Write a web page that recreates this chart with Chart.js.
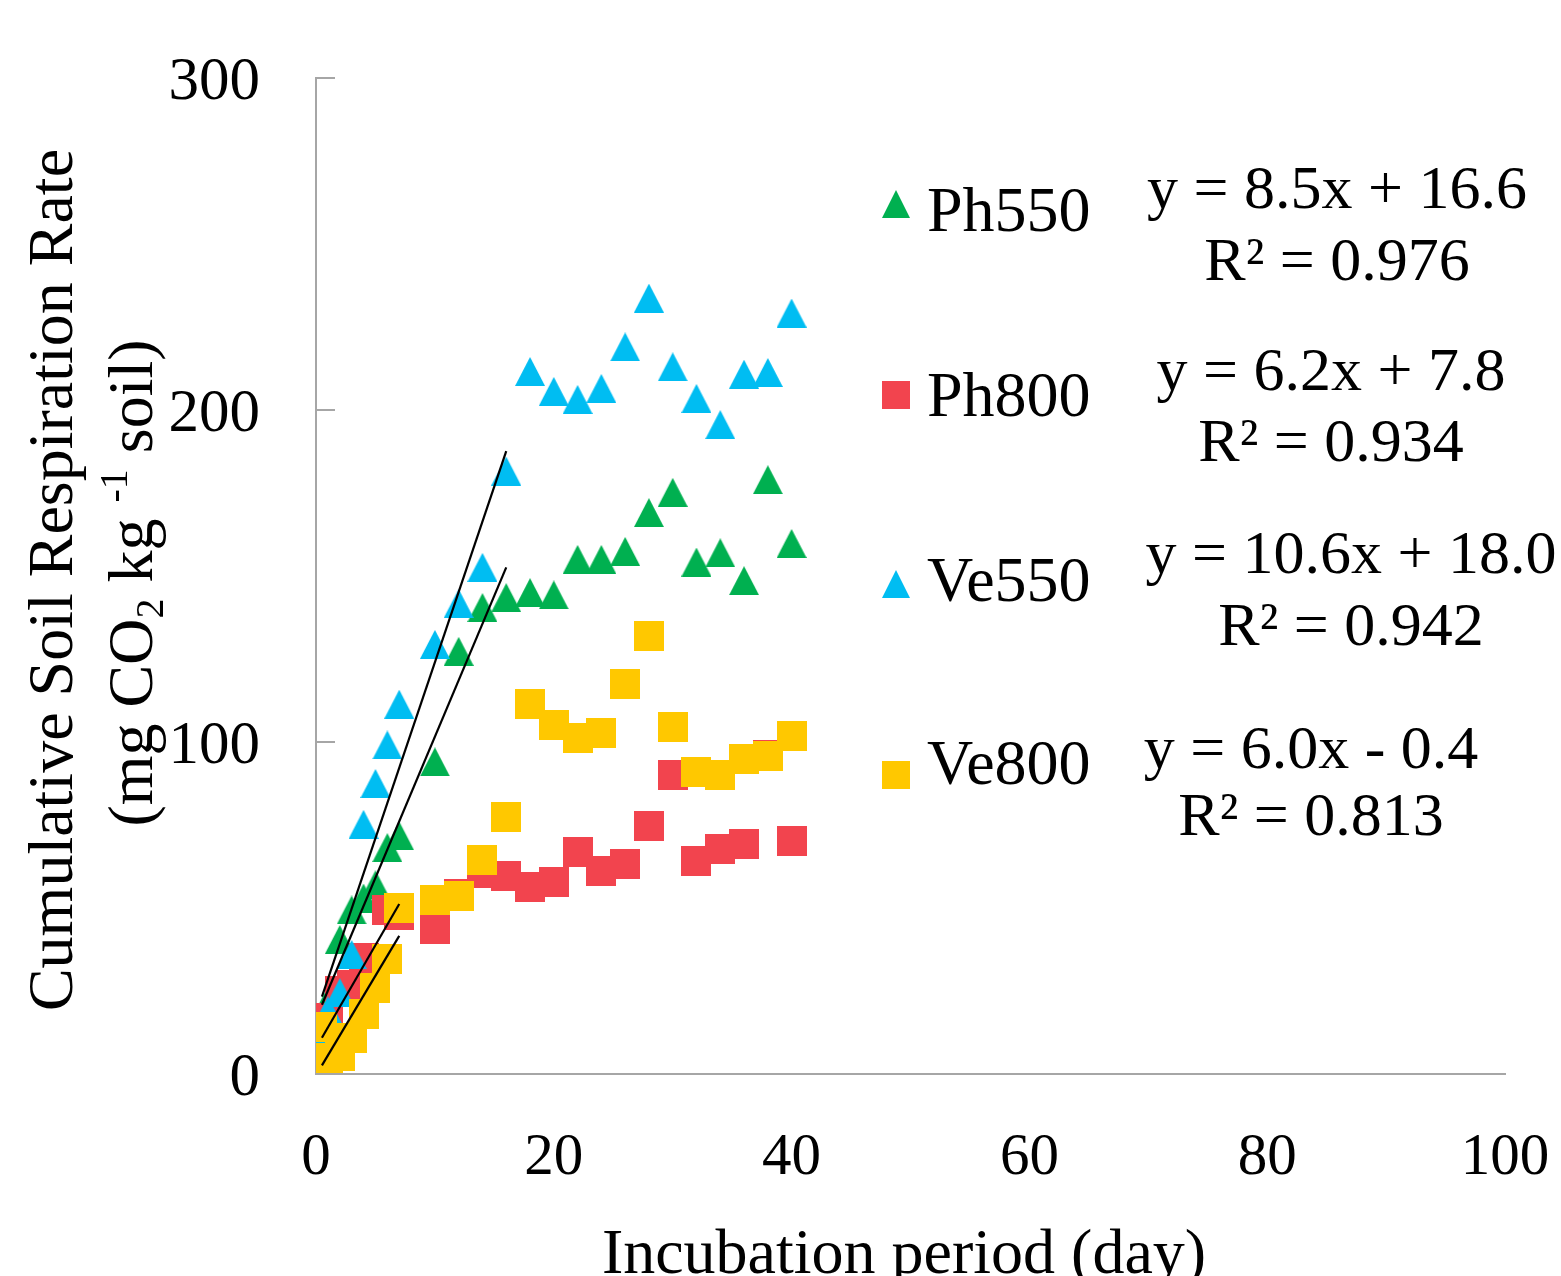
<!DOCTYPE html>
<html>
<head>
<meta charset="utf-8">
<script src="https://cdn.jsdelivr.net/npm/chart.js@4.4.0/dist/chart.umd.min.js"></script>
<style>
    html, body { margin: 0; padding: 0; background: #fff; }
    canvas { display: block; }
</style>
</head>
<body>
<canvas id="myChart" width="1561" height="1276"></canvas>
<script>
// incubation days
const days = [0.5, 1, 2, 3, 4, 5, 6, 7, 10, 12, 14, 16, 18, 20, 22, 24, 26, 28, 30, 32, 34, 36, 38, 40]

// cumulative respiration (mg CO2 / kg soil)
const ph550 = [18, 22, 40.5, 49.4, 53, 57, 68.2, 71.7, 94, 127.3, 140.5, 143.5, 145, 144.3, 155, 155, 157.4, 169.1, 175.2, 154.2, 157, 148.6, 179, 159.8]
const ph800 = [6.3, 17, 25, 26.8, 35, 32, 49.4, 47.9, 43.7, 54.2, 60.6, 59.5, 56.2, 57.8, 67, 61, 63.3, 74.8, 90.2, 64.2, 67.9, 69.4, 96.2, 70.3]
const ve550 = [13.5, 19, 24.5, 36, 75.2, 87.5, 99.1, 111.4, 129.4, 141.7, 152.6, 181.6, 211.6, 205.6, 203.2, 206.5, 219, 233.7, 213, 203.5, 195.6, 210.8, 211.3, 229.2]
const ve800 = [14.2, 4.8, 5.3, 10.8, 18, 26, 34.6, 49.9, 52.5, 53.7, 64.5, 77.5, 111.4, 105.2, 101.1, 102.8, 117.6, 131.8, 104.4, 91.1, 90.2, 94.9, 95.7, 101.7]

// linear trendlines as printed on the chart
const seriesNames = ["Ph550", "Ph800", "Ve550", "Ve800"]
const slopes = [8.5, 6.2, 10.6, 6.0]
const intercepts = [16.6, 7.8, 18.0, -0.4]
const trendFrom = [0.5, 0.5, 0.5, 0.5]
const trendTo = [16, 7, 16, 7]
const equations = ["y = 8.5x + 16.6", "y = 6.2x + 7.8", "y = 10.6x + 18.0", "y = 6.0x - 0.4"]
const rSquared = ["R² = 0.976", "R² = 0.934", "R² = 0.942", "R² = 0.813"]

const xTicks = [0, 20, 40, 60, 80, 100]
const yTicks = [0, 100, 200, 300]

const colors = ["#00B050", "#F2444E", "#00BDF2", "#FFC800"]
const axisColor = "#a6a6a6"
const serif = "'Liberation Serif', 'Times New Roman', serif"

function makeTriangle(color, w, h) {
    const c = document.createElement("canvas")
    c.width = w
    c.height = h
    const ctx = c.getContext("2d")
    ctx.fillStyle = color
    ctx.beginPath()
    ctx.moveTo(w / 2, 0)
    ctx.lineTo(w, h)
    ctx.lineTo(0, h)
    ctx.closePath()
    ctx.fill()
    return c
}

function makeSquare(color, s) {
    const c = document.createElement("canvas")
    c.width = s
    c.height = s
    const ctx = c.getContext("2d")
    ctx.fillStyle = color
    ctx.fillRect(0, 0, s, s)
    return c
}

const markers = [
    makeTriangle(colors[0], 30, 29),
    makeSquare(colors[1], 30),
    makeTriangle(colors[2], 30, 29),
    makeSquare(colors[3], 30),
]
const legendMarkers = [
    makeTriangle(colors[0], 28, 28),
    makeSquare(colors[1], 28),
    makeTriangle(colors[2], 28, 28),
    makeSquare(colors[3], 28),
]

function toPoints(values) {
    return days.map((d, i) => ({ x: d, y: values[i] }))
}

function trendPoints(i) {
    return [trendFrom[i], trendTo[i]].map((x) => ({ x: x, y: slopes[i] * x + intercepts[i] }))
}

const seriesValues = [ph550, ph800, ve550, ve800]
const datasets = []
seriesValues.forEach((values, i) => {
    datasets.push({
        label: seriesNames[i],
        data: toPoints(values),
        pointStyle: markers[i],
        pointRadius: 15,
        showLine: false,
        order: 4 - i,
    })
})
seriesValues.forEach((values, i) => {
    datasets.push({
        label: seriesNames[i] + " trend",
        data: trendPoints(i),
        showLine: true,
        borderColor: "#000",
        borderWidth: 2.2,
        pointRadius: 0,
        order: 0,
    })
})

function noPadding(scale) {
    scale.paddingLeft = 0
    scale.paddingRight = 0
    scale.paddingTop = 0
    scale.paddingBottom = 0
}

// legend entries, trendline labels, axis titles and inner tick marks
const annotations = {
    id: "annotations",
    beforeDatasetsDraw(chart) {
        const ctx = chart.ctx
        const y = chart.scales.y
        ctx.save()
        ctx.strokeStyle = axisColor
        ctx.lineWidth = 2
        yTicks.forEach((v) => {
            if (v === 0) return
            const py = Math.round(y.getPixelForValue(v))
            ctx.beginPath()
            ctx.moveTo(y.right, py)
            ctx.lineTo(y.right + 19, py)
            ctx.stroke()
        })
        ctx.restore()
    },
    afterDraw(chart) {
        const ctx = chart.ctx
        ctx.save()
        ctx.fillStyle = "#000"

        // legend
        const legendY = [204, 395, 584, 775]
        const labelBase = [231, 416, 601, 784]
        ctx.font = "64px " + serif
        ctx.textAlign = "left"
        ctx.textBaseline = "alphabetic"
        legendMarkers.forEach((m, i) => {
            ctx.drawImage(m, 896 - m.width / 2, legendY[i] - m.height / 2)
            ctx.fillText(seriesNames[i], 927, labelBase[i])
        })

        // trendline equations
        const eqX = [1337, 1331, 1351, 1311]
        const eqBase = [208, 390, 573, 768]
        const r2Base = [280, 461, 645, 835]
        ctx.font = "62px " + serif
        ctx.textAlign = "center"
        equations.forEach((eq, i) => {
            ctx.fillText(eq, eqX[i], eqBase[i])
            ctx.fillText(rSquared[i], eqX[i], r2Base[i])
        })

        // x axis title
        ctx.font = "64px " + serif
        ctx.fillText("Incubation period (day)", 904, 1273)

        // y axis title, two lines
        ctx.translate(72, 580)
        ctx.rotate(-Math.PI / 2)
        ctx.textAlign = "center"
        ctx.fillText("Cumulative Soil Respiration Rate", 0, 0)

        const parts = [
            { t: "(mg CO", size: 64, dy: 0 },
            { t: "2", size: 40, dy: 11 },
            { t: " kg ", size: 64, dy: 0 },
            { t: "-1", size: 40, dy: -25 },
            { t: " soil)", size: 64, dy: 0 },
        ]
        let total = 0
        parts.forEach((p) => {
            ctx.font = p.size + "px " + serif
            p.w = ctx.measureText(p.t).width
            total += p.w
        })
        ctx.textAlign = "left"
        let px = -total / 2 - 3
        parts.forEach((p) => {
            ctx.font = p.size + "px " + serif
            ctx.fillText(p.t, px, 80 + p.dy)
            px += p.w
        })
        ctx.restore()
    },
}

const myChart = new Chart(document.getElementById("myChart").getContext("2d"), {
    type: "scatter",
    data: { datasets: datasets },
    options: {
        responsive: false,
        animation: false,
        events: [],
        layout: { padding: { top: 78, right: 56, left: 0, bottom: 0 } },
        plugins: {
            legend: { display: false },
            tooltip: { enabled: false },
        },
        scales: {
            x: {
                type: "linear",
                min: 0,
                max: 100,
                afterBuildTicks(scale) {
                    scale.ticks = xTicks.map((v) => ({ value: v }))
                },
                afterFit(scale) {
                    scale.height = 202
                    noPadding(scale)
                },
                grid: { display: false, drawTicks: false },
                border: { display: true, color: axisColor, width: 2 },
                ticks: {
                    padding: 49,
                    color: "#000",
                    font: { family: serif, size: 59 },
                    maxRotation: 0,
                },
            },
            y: {
                type: "linear",
                min: 0,
                max: 300,
                afterBuildTicks(scale) {
                    scale.ticks = yTicks.map((v) => ({ value: v }))
                },
                afterFit(scale) {
                    scale.width = 316
                    noPadding(scale)
                },
                grid: { display: false, drawTicks: false },
                border: { display: true, color: axisColor, width: 2 },
                ticks: {
                    padding: 56,
                    labelOffset: 5,
                    color: "#000",
                    font: { family: serif, size: 61 },
                },
            },
        },
    },
    plugins: [annotations],
})
</script>
</body>
</html>
